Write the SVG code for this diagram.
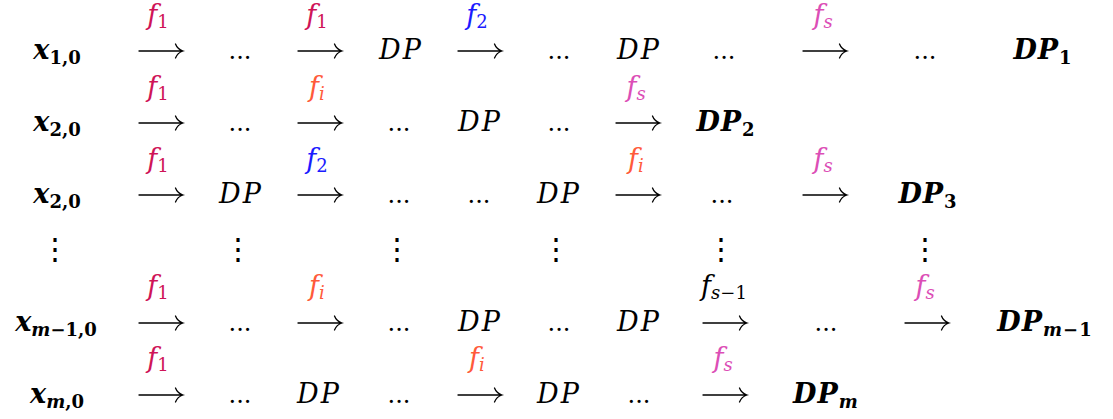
<svg xmlns="http://www.w3.org/2000/svg" width="1113" height="419" viewBox="0 0 1113 419">
<style>
text{fill:#000;text-anchor:middle;font-family:"DejaVu Serif",serif}
.dp{font-size:27px;font-style:italic;letter-spacing:2px}
.bx{font-size:27px;font-style:italic;font-weight:bold}
.bdp{font-size:27px;font-style:italic;font-weight:bold;letter-spacing:1px}
.sb{font-size:18px;font-style:normal;font-weight:bold}
.dots{font-size:24px;font-style:normal}
.f{font-size:27px;font-style:italic}
.s{font-size:18px;font-style:normal}
.si{font-size:18px;font-style:italic}
.c1{fill:#cf1457}
.c2{fill:#1b1bff}
.ci{fill:#ff5a3a}
.cs{fill:#dc4eb6}
.vd{font-size:30px;font-style:normal}
.arr{fill:none;stroke:#000;stroke-width:1.3;stroke-linecap:round}
</style>
<defs>
<path id="a" class="arr" d="M-22,0 H21.5 M14.5,-7 C16,-3 19,-1 22,0 C19,1 16,3 14.5,7"/>
</defs>
<g id="connectors">
<use href="#a" x="161" y="51"/><use href="#a" x="320" y="51"/><use href="#a" x="480" y="51"/><use href="#a" x="825" y="51"/>
<use href="#a" x="161" y="123"/><use href="#a" x="320" y="123"/><use href="#a" x="638" y="123"/>
<use href="#a" x="161" y="195"/><use href="#a" x="320" y="195"/><use href="#a" x="638" y="195"/><use href="#a" x="825" y="195"/>
<use href="#a" x="161" y="323"/><use href="#a" x="320" y="323"/><use href="#a" x="725" y="323"/><use href="#a" x="927" y="323"/>
<use href="#a" x="161" y="395"/><use href="#a" x="480" y="395"/><use href="#a" x="725" y="395"/>
</g>
<g id="labels">
<text class="f c1" x="158" y="24">f<tspan class="s" dy="4">1</tspan></text>
<text class="f c1" x="317" y="24">f<tspan class="s" dy="4">1</tspan></text>
<text class="f c2" x="477" y="24">f<tspan class="s" dy="4">2</tspan></text>
<text class="f cs" x="823" y="24">f<tspan class="si" dy="4">s</tspan></text>
<text class="f c1" x="158" y="96">f<tspan class="s" dy="4">1</tspan></text>
<text class="f ci" x="317" y="96">f<tspan class="si" dy="4">i</tspan></text>
<text class="f cs" x="636" y="96">f<tspan class="si" dy="4">s</tspan></text>
<text class="f c1" x="158" y="168">f<tspan class="s" dy="4">1</tspan></text>
<text class="f c2" x="317" y="168">f<tspan class="s" dy="4">2</tspan></text>
<text class="f ci" x="636" y="168">f<tspan class="si" dy="4">i</tspan></text>
<text class="f cs" x="823" y="168">f<tspan class="si" dy="4">s</tspan></text>
<text class="f c1" x="158" y="295">f<tspan class="s" dy="4">1</tspan></text>
<text class="f ci" x="317" y="295">f<tspan class="si" dy="4">i</tspan></text>
<text class="f" x="724" y="295">f<tspan class="si" dy="4">s</tspan><tspan class="s">−1</tspan></text>
<text class="f cs" x="925" y="295">f<tspan class="si" dy="4">s</tspan></text>
<text class="f c1" x="158" y="367">f<tspan class="s" dy="4">1</tspan></text>
<text class="f ci" x="477" y="367">f<tspan class="si" dy="4">i</tspan></text>
<text class="f cs" x="723" y="367">f<tspan class="si" dy="4">s</tspan></text>
</g>
<g id="row1">
<text class="bx" x="57" y="59">x<tspan class="sb" dy="5">1,0</tspan></text>
<text class="dots" x="240" y="59">...</text>
<text class="dp" x="401" y="59">DP</text>
<text class="dots" x="559" y="59">...</text>
<text class="dp" x="639" y="59">DP</text>
<text class="dots" x="724" y="59">...</text>
<text class="dots" x="925" y="59">...</text>
<text class="bdp" x="1043" y="59">DP<tspan class="sb" dy="5">1</tspan></text>
</g>
<g id="row2">
<text class="bx" x="57" y="131">x<tspan class="sb" dy="5">2,0</tspan></text>
<text class="dots" x="240" y="131">...</text>
<text class="dots" x="399" y="131">...</text>
<text class="dp" x="480" y="131">DP</text>
<text class="dots" x="559" y="131">...</text>
<text class="bdp" x="726" y="131">DP<tspan class="sb" dy="5">2</tspan></text>
</g>
<g id="row3">
<text class="bx" x="57" y="203">x<tspan class="sb" dy="5">2,0</tspan></text>
<text class="dp" x="241" y="203">DP</text>
<text class="dots" x="399" y="203">...</text>
<text class="dots" x="479" y="203">...</text>
<text class="dp" x="559" y="203">DP</text>
<text class="dots" x="722" y="203">...</text>
<text class="bdp" x="928" y="203">DP<tspan class="sb" dy="5">3</tspan></text>
</g>
<g id="vdots">
<text class="vd" x="55" y="259">⋮</text>
<text class="vd" x="238" y="259">⋮</text>
<text class="vd" x="397" y="259">⋮</text>
<text class="vd" x="556" y="259">⋮</text>
<text class="vd" x="721" y="259">⋮</text>
<text class="vd" x="925" y="259">⋮</text>
</g>
<g id="row5">
<text class="bx" x="56" y="331">x<tspan class="sb" dy="5"><tspan font-style="italic">m</tspan>−1,0</tspan></text>
<text class="dots" x="240" y="331">...</text>
<text class="dots" x="399" y="331">...</text>
<text class="dp" x="480" y="331">DP</text>
<text class="dots" x="559" y="331">...</text>
<text class="dp" x="639" y="331">DP</text>
<text class="dots" x="826" y="331">...</text>
<text class="bdp" x="1045" y="331">DP<tspan class="sb" dy="5"><tspan font-style="italic">m</tspan>−1</tspan></text>
</g>
<g id="row6">
<text class="bx" x="57" y="403">x<tspan class="sb" dy="5"><tspan font-style="italic">m</tspan>,0</tspan></text>
<text class="dots" x="240" y="403">...</text>
<text class="dp" x="319" y="403">DP</text>
<text class="dots" x="399" y="403">...</text>
<text class="dp" x="559" y="403">DP</text>
<text class="dots" x="639" y="403">...</text>
<text class="bdp" x="826" y="403">DP<tspan class="sb" dy="5"><tspan font-style="italic">m</tspan></tspan></text>
</g>
</svg>
